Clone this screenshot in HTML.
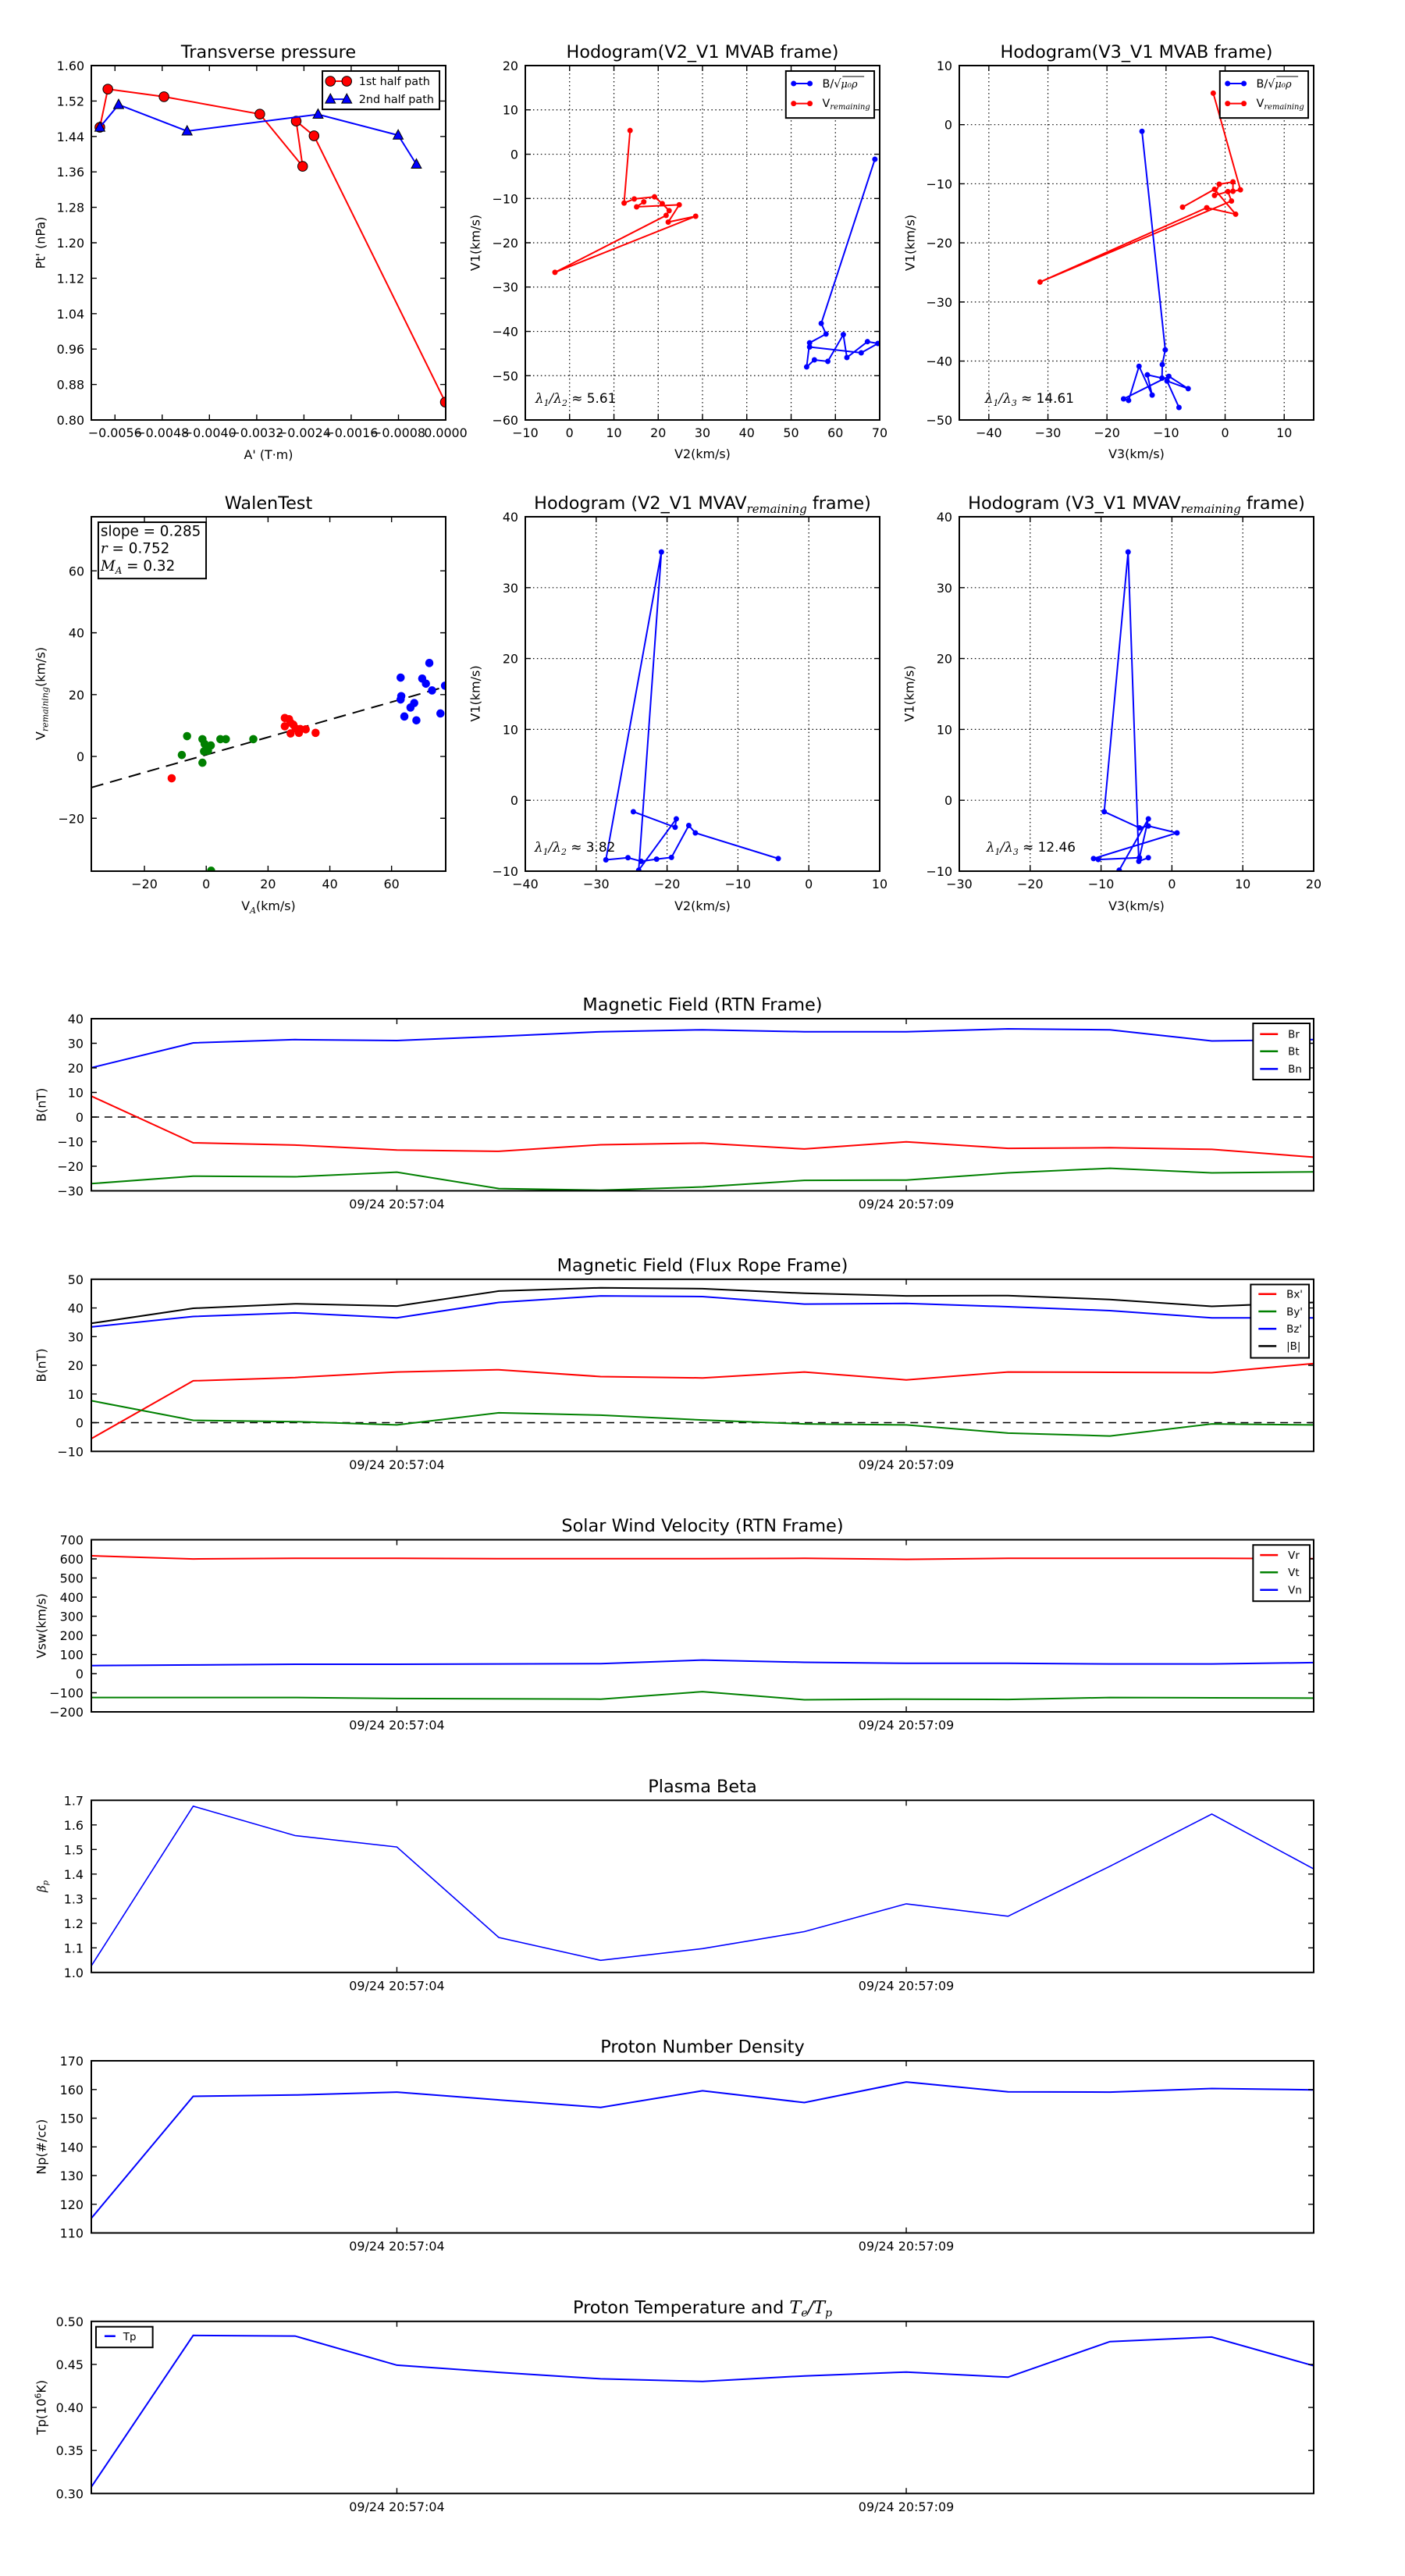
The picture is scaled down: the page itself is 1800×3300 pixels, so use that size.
<!DOCTYPE html>
<html><head><meta charset="utf-8">
<style>
html,body{margin:0;padding:0;background:#fff;}
svg{display:block;}
text{font-family:"DejaVu Sans","Liberation Sans",sans-serif;fill:#000;}
.tk{font-size:16px;}
.ti{font-size:22.5px;}
.lb{font-size:16px;}
.lg{font-size:14.5px;}
.lg2{font-size:13.5px;}
.m{font-family:"DejaVu Serif","Liberation Serif",serif;font-style:italic;}
.fr{fill:none;stroke:#000;stroke-width:2;}
.tks{fill:none;stroke:#000;stroke-width:1.4;}
.grid{fill:none;stroke:#000;stroke-width:1.2;stroke-dasharray:1.5,3.5;}
</style></head>
<body>
<svg width="1800" height="3300" viewBox="0 0 1800 3300" xmlns="http://www.w3.org/2000/svg">
<rect width="1800" height="3300" fill="#fff"/>
<defs>
<clipPath id="cA"><rect x="117" y="84" width="457" height="453"/></clipPath>
<clipPath id="cB"><rect x="673" y="84" width="457" height="453"/></clipPath>
<clipPath id="cC"><rect x="1229" y="84" width="457" height="453"/></clipPath>
<clipPath id="cD"><rect x="117" y="662" width="457" height="453"/></clipPath>
<clipPath id="cE"><rect x="673" y="662" width="457" height="453"/></clipPath>
<clipPath id="cF"><rect x="1230" y="662" width="457" height="453"/></clipPath>
</defs>

<!-- ============ Panel A: Transverse pressure ============ -->
<g transform="matrix(0.993435 0 0 1.002208 0.768 -0.1855)">
<text class="ti" x="345.5" y="74" text-anchor="middle">Transverse pressure</text>
<g clip-path="url(#cA)">
<polyline fill="none" stroke="#f00" stroke-width="2" points="128.0,162.9 138.3,114.1 210.7,123.8 334.3,146.0 389.5,212.8 381.2,155.0 404.2,173.8 573.5,514.2"/>
<g fill="#f00" stroke="#000" stroke-width="1">
<circle cx="128.0" cy="162.9" r="6.3"/><circle cx="138.3" cy="114.1" r="6.3"/><circle cx="210.7" cy="123.8" r="6.3"/><circle cx="334.3" cy="146.0" r="6.3"/><circle cx="389.5" cy="212.8" r="6.3"/><circle cx="381.2" cy="155.0" r="6.3"/><circle cx="404.2" cy="173.8" r="6.3"/><circle cx="573.5" cy="514.2" r="6.3"/>
</g>
<polyline fill="none" stroke="#00f" stroke-width="2" points="128.0,162.9 152.2,134.0 240.5,167.8 409.4,146.4 512.7,173.0 536.2,210.2"/>
<g fill="#00f" stroke="#000" stroke-width="1">
<polygon points="128,155.9 121.5,167.9 134.5,167.9"/>
<polygon points="152.2,127 145.7,139 158.7,139"/>
<polygon points="240.5,160.8 234,172.8 247,172.8"/>
<polygon points="409.4,139.4 402.9,151.4 415.9,151.4"/>
<polygon points="512.7,166 506.2,178 519.2,178"/>
<polygon points="536.2,203.2 529.7,215.2 542.7,215.2"/>
</g>
</g>
<path class="tks" d="M117 129.3h7M117 174.6h7M117 219.9h7M117 265.2h7M117 310.5h7M117 355.8h7M117 401.1h7M117 446.4h7M117 491.7h7
M574 129.3h-7M574 174.6h-7M574 219.9h-7M574 265.2h-7M574 310.5h-7M574 355.8h-7M574 401.1h-7M574 446.4h-7M574 491.7h-7
M147.5 537v-7M208.4 537v-7M269.3 537v-7M330.3 537v-7M391.2 537v-7M452.1 537v-7M513.1 537v-7
M147.5 84v7M208.4 84v7M269.3 84v7M330.3 84v7M391.2 84v7M452.1 84v7M513.1 84v7"/>
<rect class="fr" x="117" y="84" width="457" height="453"/>
<g class="tk" text-anchor="end">
<text x="108" y="90">1.60</text><text x="108" y="135.3">1.52</text><text x="108" y="180.6">1.44</text><text x="108" y="225.9">1.36</text><text x="108" y="271.2">1.28</text><text x="108" y="316.5">1.20</text><text x="108" y="361.8">1.12</text><text x="108" y="407.1">1.04</text><text x="108" y="452.4">0.96</text><text x="108" y="497.7">0.88</text><text x="108" y="543">0.80</text>
</g>
<g class="tk" text-anchor="middle">
<text x="147.5" y="559">−0.0056</text><text x="208.4" y="559">−0.0048</text><text x="269.3" y="559">−0.0040</text><text x="330.3" y="559">−0.0032</text><text x="391.2" y="559">−0.0024</text><text x="452.1" y="559">−0.0016</text><text x="513.1" y="559">−0.0008</text><text x="574" y="559">0.0000</text>
</g>
<text class="lb" x="345.5" y="587" text-anchor="middle">A' (T·m)</text>
<text class="lb" transform="translate(57,310.5) rotate(-90)" text-anchor="middle">Pt' (nPa)</text>
<rect x="415" y="91" width="151" height="49" fill="#fff" stroke="#000" stroke-width="2"/>
<line x1="425.3" y1="104" x2="446.4" y2="104" stroke="#f00" stroke-width="2"/>
<circle cx="425.3" cy="104" r="6.3" fill="#f00" stroke="#000"/><circle cx="446.4" cy="104" r="6.3" fill="#f00" stroke="#000"/>
<text class="lg" x="462" y="109">1st half path</text>
<line x1="425.3" y1="127" x2="446.4" y2="127" stroke="#00f" stroke-width="2"/>
<polygon points="425.3,120 418.8,132 431.8,132" fill="#00f" stroke="#000"/><polygon points="446.4,120 439.9,132 452.9,132" fill="#00f" stroke="#000"/>
<text class="lg" x="462" y="132">2nd half path</text>
</g>

<!-- ============ Panel B: Hodogram V2_V1 MVAB ============ -->
<g transform="matrix(0.993435 0 0 1.002208 4.418 -0.1855)">
<text class="ti" x="901.5" y="74" text-anchor="middle">Hodogram(V2_V1 MVAB frame)</text>
<path class="grid" d="M730.1 84V537M787.3 84V537M844.4 84V537M901.5 84V537M958.6 84V537M1015.8 84V537M1072.9 84V537
M673 140.6H1130M673 197.3H1130M673 253.9H1130M673 310.5H1130M673 367.1H1130M673 423.8H1130M673 480.4H1130"/>
<g clip-path="url(#cB)">
<polyline fill="none" stroke="#f00" stroke-width="2" points="808.1,167.0 800.4,259.7 813.5,254.5 839.6,251.8 849.6,260.5 858.5,269.5 854.6,275.5 711.2,348.3 892.7,276.6 857.3,284.1 871.5,262.0 816.5,264.6 825.8,258.2"/>
<g fill="#f00">
<circle cx="808.1" cy="167.0" r="3.5"/><circle cx="800.4" cy="259.7" r="3.5"/><circle cx="813.5" cy="254.5" r="3.5"/><circle cx="839.6" cy="251.8" r="3.5"/><circle cx="849.6" cy="260.5" r="3.5"/><circle cx="858.5" cy="269.5" r="3.5"/><circle cx="854.6" cy="275.5" r="3.5"/><circle cx="711.2" cy="348.3" r="3.5"/><circle cx="892.7" cy="276.6" r="3.5"/><circle cx="857.3" cy="284.1" r="3.5"/><circle cx="871.5" cy="262.0" r="3.5"/><circle cx="816.5" cy="264.6" r="3.5"/><circle cx="825.8" cy="258.2" r="3.5"/>
</g>
<polyline fill="none" stroke="#00f" stroke-width="2" points="1123.8,203.8 1054.6,413.6 1060.8,427.1 1039.6,438.4 1035.8,469.2 1045.8,460.2 1063.1,462.1 1083.1,427.9 1087.7,457.2 1114.2,436.9 1127.7,439.2 1106.2,451.2 1039.6,443.7"/>
<g fill="#00f">
<circle cx="1123.8" cy="203.8" r="3.5"/><circle cx="1054.6" cy="413.6" r="3.5"/><circle cx="1060.8" cy="427.1" r="3.5"/><circle cx="1039.6" cy="438.4" r="3.5"/><circle cx="1035.8" cy="469.2" r="3.5"/><circle cx="1045.8" cy="460.2" r="3.5"/><circle cx="1063.1" cy="462.1" r="3.5"/><circle cx="1083.1" cy="427.9" r="3.5"/><circle cx="1087.7" cy="457.2" r="3.5"/><circle cx="1114.2" cy="436.9" r="3.5"/><circle cx="1127.7" cy="439.2" r="3.5"/><circle cx="1106.2" cy="451.2" r="3.5"/><circle cx="1039.6" cy="443.7" r="3.5"/>
</g>
</g>
<path class="tks" d="M673 140.6h7M673 197.3h7M673 253.9h7M673 310.5h7M673 367.1h7M673 423.8h7M673 480.4h7
M1130 140.6h-7M1130 197.3h-7M1130 253.9h-7M1130 310.5h-7M1130 367.1h-7M1130 423.8h-7M1130 480.4h-7
M730.1 537v-7M787.3 537v-7M844.4 537v-7M901.5 537v-7M958.6 537v-7M1015.8 537v-7M1072.9 537v-7
M730.1 84v7M787.3 84v7M844.4 84v7M901.5 84v7M958.6 84v7M1015.8 84v7M1072.9 84v7"/>
<rect class="fr" x="673" y="84" width="457" height="453"/>
<g class="tk" text-anchor="end">
<text x="664" y="90">20</text><text x="664" y="146.6">10</text><text x="664" y="203.3">0</text><text x="664" y="259.9">−10</text><text x="664" y="316.5">−20</text><text x="664" y="373.1">−30</text><text x="664" y="429.8">−40</text><text x="664" y="486.4">−50</text><text x="664" y="543">−60</text>
</g>
<g class="tk" text-anchor="middle">
<text x="673" y="559">−10</text><text x="730.1" y="559">0</text><text x="787.3" y="559">10</text><text x="844.4" y="559">20</text><text x="901.5" y="559">30</text><text x="958.6" y="559">40</text><text x="1015.8" y="559">50</text><text x="1072.9" y="559">60</text><text x="1130" y="559">70</text>
</g>
<text class="lb" x="901.5" y="586" text-anchor="middle">V2(km/s)</text>
<text class="lb" transform="translate(614,310.5) rotate(-90)" text-anchor="middle">V1(km/s)</text>
<text x="686" y="515" font-size="17"><tspan class="m">λ</tspan><tspan class="m" font-size="11" dy="4">1</tspan><tspan class="m" dy="-4">/λ</tspan><tspan class="m" font-size="11" dy="4">2</tspan><tspan dy="-4"> ≈ 5.61</tspan></text>
<rect x="1009" y="91" width="114" height="60" fill="#fff" stroke="#000" stroke-width="2"/>
<line x1="1019" y1="107" x2="1040" y2="107" stroke="#00f" stroke-width="2"/>
<circle cx="1019" cy="107" r="3.5" fill="#00f"/><circle cx="1040" cy="107" r="3.5" fill="#00f"/>
<text class="lg" x="1056" y="112">B/<tspan class="m">√</tspan><tspan class="m" font-size="13">μ₀ρ</tspan></text>
<line x1="1082" y1="98" x2="1110" y2="98" stroke="#000" stroke-width="1"/>
<line x1="1019" y1="132.5" x2="1040" y2="132.5" stroke="#f00" stroke-width="2"/>
<circle cx="1019" cy="132.5" r="3.5" fill="#f00"/><circle cx="1040" cy="132.5" r="3.5" fill="#f00"/>
<text class="lg" x="1056" y="137">V<tspan class="m" font-size="10" dy="3">remaining</tspan></text>
</g>

<!-- ============ Panel C: Hodogram V3_V1 MVAB ============ -->
<g transform="matrix(0.993435 0 0 1.002208 8.068 -0.1855)">
<text class="ti" x="1457.5" y="74" text-anchor="middle">Hodogram(V3_V1 MVAB frame)</text>
<path class="grid" d="M1267.1 84V537M1343.3 84V537M1419.4 84V537M1495.6 84V537M1571.8 84V537M1648 84V537
M1229 159.5H1686M1229 235.1H1686M1229 310.6H1686M1229 386.2H1686M1229 461.7H1686"/>
<g clip-path="url(#cC)">
<polyline fill="none" stroke="#f00" stroke-width="2" points="1556.5,119.3 1591.5,242.8 1581.9,244.7 1581.9,232.7 1564.2,235.7 1558.1,250.0 1575.4,245.1 1580.0,257.1 1333.1,360.7 1548.1,265.7 1585.4,274.0 1558.1,242.1 1516.9,265.0"/>
<g fill="#f00">
<circle cx="1556.5" cy="119.3" r="3.5"/><circle cx="1591.5" cy="242.8" r="3.5"/><circle cx="1581.9" cy="244.7" r="3.5"/><circle cx="1581.9" cy="232.7" r="3.5"/><circle cx="1564.2" cy="235.7" r="3.5"/><circle cx="1558.1" cy="250.0" r="3.5"/><circle cx="1575.4" cy="245.1" r="3.5"/><circle cx="1580.0" cy="257.1" r="3.5"/><circle cx="1333.1" cy="360.7" r="3.5"/><circle cx="1548.1" cy="265.7" r="3.5"/><circle cx="1585.4" cy="274.0" r="3.5"/><circle cx="1558.1" cy="242.1" r="3.5"/><circle cx="1516.9" cy="265.0" r="3.5"/>
</g>
<polyline fill="none" stroke="#00f" stroke-width="2" points="1464.6,168.1 1494.6,447.4 1490.8,466.2 1490.4,483.5 1471.5,479.3 1477.7,505.2 1460.8,468.4 1447.3,512.0 1440.8,510.1 1499.2,481.2 1524.2,497.0 1496.9,487.2 1512.3,521.0"/>
<g fill="#00f">
<circle cx="1464.6" cy="168.1" r="3.5"/><circle cx="1494.6" cy="447.4" r="3.5"/><circle cx="1490.8" cy="466.2" r="3.5"/><circle cx="1490.4" cy="483.5" r="3.5"/><circle cx="1471.5" cy="479.3" r="3.5"/><circle cx="1477.7" cy="505.2" r="3.5"/><circle cx="1460.8" cy="468.4" r="3.5"/><circle cx="1447.3" cy="512.0" r="3.5"/><circle cx="1440.8" cy="510.1" r="3.5"/><circle cx="1499.2" cy="481.2" r="3.5"/><circle cx="1524.2" cy="497.0" r="3.5"/><circle cx="1496.9" cy="487.2" r="3.5"/><circle cx="1512.3" cy="521.0" r="3.5"/>
</g>
</g>
<path class="tks" d="M1229 159.5h7M1229 235.1h7M1229 310.6h7M1229 386.2h7M1229 461.7h7
M1686 159.5h-7M1686 235.1h-7M1686 310.6h-7M1686 386.2h-7M1686 461.7h-7
M1267.1 537v-7M1343.3 537v-7M1419.4 537v-7M1495.6 537v-7M1571.8 537v-7M1648 537v-7
M1267.1 84v7M1343.3 84v7M1419.4 84v7M1495.6 84v7M1571.8 84v7M1648 84v7"/>
<rect class="fr" x="1229" y="84" width="457" height="453"/>
<g class="tk" text-anchor="end">
<text x="1220" y="90">10</text><text x="1220" y="165.5">0</text><text x="1220" y="241.1">−10</text><text x="1220" y="316.6">−20</text><text x="1220" y="392.2">−30</text><text x="1220" y="467.7">−40</text><text x="1220" y="543">−50</text>
</g>
<g class="tk" text-anchor="middle">
<text x="1267.1" y="559">−40</text><text x="1343.3" y="559">−30</text><text x="1419.4" y="559">−20</text><text x="1495.6" y="559">−10</text><text x="1571.8" y="559">0</text><text x="1648" y="559">10</text>
</g>
<text class="lb" x="1457.5" y="586" text-anchor="middle">V3(km/s)</text>
<text class="lb" transform="translate(1171,310.5) rotate(-90)" text-anchor="middle">V1(km/s)</text>
<text x="1262" y="515" font-size="17"><tspan class="m">λ</tspan><tspan class="m" font-size="11" dy="4">1</tspan><tspan class="m" dy="-4">/λ</tspan><tspan class="m" font-size="11" dy="4">3</tspan><tspan dy="-4"> ≈ 14.61</tspan></text>
<rect x="1565" y="91" width="114" height="60" fill="#fff" stroke="#000" stroke-width="2"/>
<line x1="1575" y1="107" x2="1596" y2="107" stroke="#00f" stroke-width="2"/>
<circle cx="1575" cy="107" r="3.5" fill="#00f"/><circle cx="1596" cy="107" r="3.5" fill="#00f"/>
<text class="lg" x="1612" y="112">B/<tspan class="m">√</tspan><tspan class="m" font-size="13">μ₀ρ</tspan></text>
<line x1="1638" y1="98" x2="1666" y2="98" stroke="#000" stroke-width="1"/>
<line x1="1575" y1="132.5" x2="1596" y2="132.5" stroke="#f00" stroke-width="2"/>
<circle cx="1575" cy="132.5" r="3.5" fill="#f00"/><circle cx="1596" cy="132.5" r="3.5" fill="#f00"/>
<text class="lg" x="1612" y="137">V<tspan class="m" font-size="10" dy="3">remaining</tspan></text>
</g>

<!-- ============ Panel D: WalenTest ============ -->
<g transform="matrix(0.993435 0 0 1.002208 0.768 -1.4617)">
<text class="ti" x="345.5" y="652" text-anchor="middle">WalenTest</text>
<g clip-path="url(#cD)">
<line x1="117" y1="1008.1" x2="574" y2="879.1" stroke="#000" stroke-width="2" stroke-dasharray="16,9"/>
<g fill="#008000">
<circle cx="240.5" cy="942.4" r="5.3"/><circle cx="233.7" cy="966.5" r="5.3"/><circle cx="260.3" cy="946.3" r="5.3"/><circle cx="263.1" cy="952.4" r="5.3"/><circle cx="262.3" cy="961.9" r="5.3"/><circle cx="267.5" cy="961.1" r="5.3"/><circle cx="271.1" cy="954.3" r="5.3"/><circle cx="260.3" cy="976.4" r="5.3"/><circle cx="283.4" cy="946.3" r="5.3"/><circle cx="290.5" cy="946.3" r="5.3"/><circle cx="325.9" cy="946.3" r="5.3"/><circle cx="271.5" cy="1114.5" r="5.3"/>
</g>
<g fill="#f00">
<circle cx="220.6" cy="996.3" r="5.3"/><circle cx="366.5" cy="919.2" r="5.3"/><circle cx="372.0" cy="920.7" r="5.3"/><circle cx="366.5" cy="929.8" r="5.3"/><circle cx="374.0" cy="925.3" r="5.3"/><circle cx="377.6" cy="927.9" r="5.3"/><circle cx="380.4" cy="932.5" r="5.3"/><circle cx="386.3" cy="933.3" r="5.3"/><circle cx="384.7" cy="938.2" r="5.3"/><circle cx="374.0" cy="939.0" r="5.3"/><circle cx="393.5" cy="933.7" r="5.3"/><circle cx="406.2" cy="938.2" r="5.3"/>
</g>
<g fill="#00f">
<circle cx="515.9" cy="867.6" r="5.3"/><circle cx="516.7" cy="891.3" r="5.3"/><circle cx="515.9" cy="895.5" r="5.3"/><circle cx="520.7" cy="917.3" r="5.3"/><circle cx="528.6" cy="905.8" r="5.3"/><circle cx="533.4" cy="900.1" r="5.3"/><circle cx="536.2" cy="922.2" r="5.3"/><circle cx="543.7" cy="868.8" r="5.3"/><circle cx="548.5" cy="875.3" r="5.3"/><circle cx="552.9" cy="848.9" r="5.3"/><circle cx="556.4" cy="884.0" r="5.3"/><circle cx="567.2" cy="913.4" r="5.3"/><circle cx="573.1" cy="877.9" r="5.3"/>
</g>
</g>
<path class="tks" d="M117 731.2h7M117 810.3h7M117 889.3h7M117 968.4h7M117 1047.4h7
M574 731.2h-7M574 810.3h-7M574 889.3h-7M574 968.4h-7M574 1047.4h-7
M185.5 1115v-7M265.2 1115v-7M344.9 1115v-7M424.6 1115v-7M504.2 1115v-7
M185.5 662v7M265.2 662v7M344.9 662v7M424.6 662v7M504.2 662v7"/>
<rect class="fr" x="117" y="662" width="457" height="453"/>
<g class="tk" text-anchor="end">
<text x="108" y="737.2">60</text><text x="108" y="816.3">40</text><text x="108" y="895.3">20</text><text x="108" y="974.4">0</text><text x="108" y="1053.4">−20</text>
</g>
<g class="tk" text-anchor="middle">
<text x="185.5" y="1137">−20</text><text x="265.2" y="1137">0</text><text x="344.9" y="1137">20</text><text x="424.6" y="1137">40</text><text x="504.2" y="1137">60</text>
</g>
<text class="lb" x="345.5" y="1165" text-anchor="middle">V<tspan class="m" font-size="11" dy="4">A</tspan><tspan dy="-4">(km/s)</tspan></text>
<text class="lb" transform="translate(57,888) rotate(-90)" text-anchor="middle">V<tspan class="m" font-size="11" dy="4">remaining</tspan><tspan dy="-4">(km/s)</tspan></text>
<rect x="126" y="669" width="139" height="72" fill="#fff" stroke="#000" stroke-width="2"/>
<text x="129" y="686.3" font-size="18.5">slope = 0.285</text>
<text x="129" y="708.5" font-size="18.5"><tspan class="m">r</tspan> = 0.752</text>
<text x="129" y="731" font-size="18.5"><tspan class="m">M</tspan><tspan class="m" font-size="12" dy="4">A</tspan><tspan dy="-4"> = 0.32</tspan></text>
</g>

<!-- ============ Panel E ============ -->
<g transform="matrix(0.993435 0 0 1.002208 4.418 -1.4617)">
<text class="ti" x="901.5" y="652" text-anchor="middle">Hodogram (V2_V1 MVAV<tspan class="m" font-size="15" dy="5">remaining</tspan><tspan dy="-5"> frame)</tspan></text>
<path class="grid" d="M764.4 662V1115M855.8 662V1115M947.2 662V1115M1038.6 662V1115
M673 752.6H1130M673 843.2H1130M673 933.8H1130M673 1024.4H1130"/>
<g clip-path="url(#cE)">
<polyline fill="none" stroke="#00f" stroke-width="2" points="812.3,1039.0 866.2,1058.9 867.7,1048.2 819.2,1113.8 848.5,707.0 776.9,1100.5 805.4,1097.8 822.3,1102.4 842.3,1099.7 861.5,1097.4 883.8,1056.6 892.3,1066.1 999.2,1098.9"/>
<g fill="#00f">
<circle cx="812.3" cy="1039.0" r="3.5"/><circle cx="866.2" cy="1058.9" r="3.5"/><circle cx="867.7" cy="1048.2" r="3.5"/><circle cx="819.2" cy="1113.8" r="3.5"/><circle cx="848.5" cy="707.0" r="3.5"/><circle cx="776.9" cy="1100.5" r="3.5"/><circle cx="805.4" cy="1097.8" r="3.5"/><circle cx="822.3" cy="1102.4" r="3.5"/><circle cx="842.3" cy="1099.7" r="3.5"/><circle cx="861.5" cy="1097.4" r="3.5"/><circle cx="883.8" cy="1056.6" r="3.5"/><circle cx="892.3" cy="1066.1" r="3.5"/><circle cx="999.2" cy="1098.9" r="3.5"/>
</g>
</g>
<path class="tks" d="M673 752.6h7M673 843.2h7M673 933.8h7M673 1024.4h7
M1130 752.6h-7M1130 843.2h-7M1130 933.8h-7M1130 1024.4h-7
M764.4 1115v-7M855.8 1115v-7M947.2 1115v-7M1038.6 1115v-7
M764.4 662v7M855.8 662v7M947.2 662v7M1038.6 662v7"/>
<rect class="fr" x="673" y="662" width="457" height="453"/>
<g class="tk" text-anchor="end">
<text x="664" y="668">40</text><text x="664" y="758.6">30</text><text x="664" y="849.2">20</text><text x="664" y="939.8">10</text><text x="664" y="1030.4">0</text><text x="664" y="1121">−10</text>
</g>
<g class="tk" text-anchor="middle">
<text x="673" y="1137">−40</text><text x="764.4" y="1137">−30</text><text x="855.8" y="1137">−20</text><text x="947.2" y="1137">−10</text><text x="1038.6" y="1137">0</text><text x="1130" y="1137">10</text>
</g>
<text class="lb" x="901.5" y="1165" text-anchor="middle">V2(km/s)</text>
<text class="lb" transform="translate(614,888) rotate(-90)" text-anchor="middle">V1(km/s)</text>
<text x="685" y="1090" font-size="17"><tspan class="m">λ</tspan><tspan class="m" font-size="11" dy="4">1</tspan><tspan class="m" dy="-4">/λ</tspan><tspan class="m" font-size="11" dy="4">2</tspan><tspan dy="-4"> ≈ 3.82</tspan></text>
</g>

<!-- ============ Panel F ============ -->
<g transform="matrix(0.993435 0 0 1.002208 7.075 -1.4617)">
<text class="ti" x="1458.5" y="652" text-anchor="middle">Hodogram (V3_V1 MVAV<tspan class="m" font-size="15" dy="5">remaining</tspan><tspan dy="-5"> frame)</tspan></text>
<path class="grid" d="M1321.4 662V1115M1412.8 662V1115M1504.2 662V1115M1595.6 662V1115
M1230 752.6H1687M1230 843.2H1687M1230 933.8H1687M1230 1024.4H1687"/>
<g clip-path="url(#cF)">
<polyline fill="none" stroke="#00f" stroke-width="2" points="1436.2,1113.8 1473.8,1048.2 1462.3,1097.8 1409.2,1100.1 1403.1,1098.9 1510.8,1066.1 1473.8,1057.3 1462.3,1059.6 1416.9,1039.0 1447.7,707.0 1461.5,1102.4 1473.8,1097.8"/>
<g fill="#00f">
<circle cx="1436.2" cy="1113.8" r="3.5"/><circle cx="1473.8" cy="1048.2" r="3.5"/><circle cx="1462.3" cy="1097.8" r="3.5"/><circle cx="1409.2" cy="1100.1" r="3.5"/><circle cx="1403.1" cy="1098.9" r="3.5"/><circle cx="1510.8" cy="1066.1" r="3.5"/><circle cx="1473.8" cy="1057.3" r="3.5"/><circle cx="1462.3" cy="1059.6" r="3.5"/><circle cx="1416.9" cy="1039.0" r="3.5"/><circle cx="1447.7" cy="707.0" r="3.5"/><circle cx="1461.5" cy="1102.4" r="3.5"/><circle cx="1473.8" cy="1097.8" r="3.5"/>
</g>
</g>
<path class="tks" d="M1230 752.6h7M1230 843.2h7M1230 933.8h7M1230 1024.4h7
M1687 752.6h-7M1687 843.2h-7M1687 933.8h-7M1687 1024.4h-7
M1321.4 1115v-7M1412.8 1115v-7M1504.2 1115v-7M1595.6 1115v-7
M1321.4 662v7M1412.8 662v7M1504.2 662v7M1595.6 662v7"/>
<rect class="fr" x="1230" y="662" width="457" height="453"/>
<g class="tk" text-anchor="end">
<text x="1221" y="668">40</text><text x="1221" y="758.6">30</text><text x="1221" y="849.2">20</text><text x="1221" y="939.8">10</text><text x="1221" y="1030.4">0</text><text x="1221" y="1121">−10</text>
</g>
<g class="tk" text-anchor="middle">
<text x="1230" y="1137">−30</text><text x="1321.4" y="1137">−20</text><text x="1412.8" y="1137">−10</text><text x="1504.2" y="1137">0</text><text x="1595.6" y="1137">10</text><text x="1687" y="1137">20</text>
</g>
<text class="lb" x="1458.5" y="1165" text-anchor="middle">V3(km/s)</text>
<text class="lb" transform="translate(1171,888) rotate(-90)" text-anchor="middle">V1(km/s)</text>
<text x="1265" y="1090" font-size="17"><tspan class="m">λ</tspan><tspan class="m" font-size="11" dy="4">1</tspan><tspan class="m" dy="-4">/λ</tspan><tspan class="m" font-size="11" dy="4">3</tspan><tspan dy="-4"> ≈ 12.46</tspan></text>
</g>

<!-- ============ Time series (scaled horizontally to 117–1683) ============ -->
<g transform="matrix(0.99555 0 0 1 0.5207 0)">

<!-- TS 1 -->
<text class="ti" x="903.5" y="1294.5" text-anchor="middle">Magnetic Field (RTN Frame)</text>
<line x1="117" y1="1431" x2="1690" y2="1431" stroke="#000" stroke-width="1.5" stroke-dasharray="10,7"/>
<polyline fill="none" stroke="#f00" stroke-width="2" points="117,1404.2 248.1,1464.0 379.2,1466.9 510.2,1473.2 641.3,1474.9 772.4,1466.5 903.5,1464.4 1034.6,1471.9 1165.7,1462.7 1296.7,1471.1 1427.8,1470.3 1558.9,1472.4 1690,1482.4"/>
<polyline fill="none" stroke="#008000" stroke-width="2" points="117,1516.3 248.1,1506.7 379.2,1507.5 510.2,1501.6 641.3,1522.6 772.4,1524.7 903.5,1520.5 1034.6,1512.1 1165.7,1511.7 1296.7,1502.5 1427.8,1496.6 1558.9,1502.5 1690,1501.2"/>
<polyline fill="none" stroke="#00f" stroke-width="2" points="117,1367.8 248.1,1336.0 379.2,1331.8 510.2,1333.0 641.3,1327.6 772.4,1321.7 903.5,1319.2 1034.6,1321.7 1165.7,1321.7 1296.7,1318.0 1427.8,1319.2 1558.9,1333.5 1690,1331.8"/>
<path class="tks" d="M117 1336.5h7M117 1368h7M117 1399.5h7M117 1431h7M117 1462.5h7M117 1494h7
M1690 1336.5h-7M1690 1368h-7M1690 1399.5h-7M1690 1431h-7M1690 1462.5h-7M1690 1494h-7
M510.2 1305v7M1165.7 1305v7M510.2 1525.5v-7M1165.7 1525.5v-7"/>
<rect class="fr" x="117" y="1305" width="1573" height="220.5"/>
<g class="tk" text-anchor="end">
<text x="107" y="1311">40</text><text x="107" y="1342.5">30</text><text x="107" y="1374">20</text><text x="107" y="1405.5">10</text><text x="107" y="1437">0</text><text x="107" y="1468.5">−10</text><text x="107" y="1500">−20</text><text x="107" y="1531.5">−30</text>
</g>
<g class="tk" text-anchor="middle"><text x="510.2" y="1548">09/24 20:57:04</text><text x="1165.7" y="1548">09/24 20:57:09</text></g>
<text class="lb" transform="translate(58,1415.3) rotate(-90)" text-anchor="middle">B(nT)</text>
<rect x="1612" y="1311" width="73" height="72" fill="#fff" stroke="#000" stroke-width="2"/>
<line x1="1621" y1="1324.7" x2="1644" y2="1324.7" stroke="#f00" stroke-width="2.5"/><text class="lg2" x="1657" y="1329.5">Br</text>
<line x1="1621" y1="1346.8" x2="1644" y2="1346.8" stroke="#008000" stroke-width="2.5"/><text class="lg2" x="1657" y="1351.6">Bt</text>
<line x1="1621" y1="1369.4" x2="1644" y2="1369.4" stroke="#00f" stroke-width="2.5"/><text class="lg2" x="1657" y="1374.2">Bn</text>

<!-- TS 2 -->
<text class="ti" x="903.5" y="1628.3" text-anchor="middle">Magnetic Field (Flux Rope Frame)</text>
<line x1="117" y1="1822.5" x2="1690" y2="1822.5" stroke="#000" stroke-width="1.5" stroke-dasharray="10,7"/>
<polyline fill="none" stroke="#f00" stroke-width="2" points="117,1843.0 248.1,1768.9 379.2,1764.7 510.2,1757.6 641.3,1754.7 772.4,1763.5 903.5,1765.2 1034.6,1757.6 1165.7,1767.7 1296.7,1757.6 1427.8,1758.0 1558.9,1758.5 1690,1746.7"/>
<polyline fill="none" stroke="#008000" stroke-width="2" points="117,1794.4 248.1,1819.5 379.2,1821.2 510.2,1825.4 641.3,1809.9 772.4,1812.9 903.5,1819.1 1034.6,1824.1 1165.7,1825.4 1296.7,1835.9 1427.8,1839.6 1558.9,1824.1 1690,1825.4"/>
<polyline fill="none" stroke="#00f" stroke-width="2" points="117,1699.9 248.1,1686.5 379.2,1681.9 510.2,1688.2 641.3,1668.5 772.4,1660.1 903.5,1661.0 1034.6,1670.6 1165.7,1669.8 1296.7,1674.0 1427.8,1679.0 1558.9,1688.2 1690,1688.2"/>
<polyline fill="none" stroke="#000" stroke-width="2" points="117,1695.3 248.1,1676.0 379.2,1670.2 510.2,1673.1 641.3,1653.9 772.4,1649.7 903.5,1650.9 1034.6,1656.8 1165.7,1660.1 1296.7,1659.7 1427.8,1664.7 1558.9,1673.5 1690,1668.5"/>
<path class="tks" d="M117 1675.6h7M117 1712.3h7M117 1749h7M117 1785.8h7M117 1822.5h7
M1690 1675.6h-7M1690 1712.3h-7M1690 1749h-7M1690 1785.8h-7M1690 1822.5h-7
M510.2 1638.8v7M1165.7 1638.8v7M510.2 1859.3v-7M1165.7 1859.3v-7"/>
<rect class="fr" x="117" y="1638.8" width="1573" height="220.5"/>
<g class="tk" text-anchor="end">
<text x="107" y="1644.8">50</text><text x="107" y="1681.6">40</text><text x="107" y="1718.3">30</text><text x="107" y="1755">20</text><text x="107" y="1791.8">10</text><text x="107" y="1828.5">0</text><text x="107" y="1865.3">−10</text>
</g>
<g class="tk" text-anchor="middle"><text x="510.2" y="1881.8">09/24 20:57:04</text><text x="1165.7" y="1881.8">09/24 20:57:09</text></g>
<text class="lb" transform="translate(58,1749) rotate(-90)" text-anchor="middle">B(nT)</text>
<rect x="1609" y="1645.5" width="75" height="94" fill="#fff" stroke="#000" stroke-width="2"/>
<line x1="1619" y1="1657.8" x2="1642" y2="1657.8" stroke="#f00" stroke-width="2.5"/><text class="lg2" x="1655" y="1662.6">Bx'</text>
<line x1="1619" y1="1680" x2="1642" y2="1680" stroke="#008000" stroke-width="2.5"/><text class="lg2" x="1655" y="1684.8">By'</text>
<line x1="1619" y1="1702.2" x2="1642" y2="1702.2" stroke="#00f" stroke-width="2.5"/><text class="lg2" x="1655" y="1707">Bz'</text>
<line x1="1619" y1="1724.4" x2="1642" y2="1724.4" stroke="#000" stroke-width="2.5"/><text class="lg2" x="1655" y="1729.2">|B|</text>

<!-- TS 3 -->
<text class="ti" x="903.5" y="1962" text-anchor="middle">Solar Wind Velocity (RTN Frame)</text>
<polyline fill="none" stroke="#f00" stroke-width="2" points="117,1993.0 248.1,1997.1 379.2,1996.3 510.2,1996.3 641.3,1996.7 772.4,1996.7 903.5,1996.7 1034.6,1996.3 1165.7,1997.6 1296.7,1996.3 1427.8,1996.3 1558.9,1996.3 1690,1996.7"/>
<polyline fill="none" stroke="#008000" stroke-width="2" points="117,2174.6 248.1,2174.6 379.2,2174.6 510.2,2175.9 641.3,2176.3 772.4,2176.7 903.5,2167.1 1034.6,2177.5 1165.7,2176.7 1296.7,2177.1 1427.8,2174.6 1558.9,2175.0 1690,2175.4"/>
<polyline fill="none" stroke="#00f" stroke-width="2" points="117,2133.7 248.1,2132.9 379.2,2132.0 510.2,2132.0 641.3,2131.6 772.4,2131.2 903.5,2126.6 1034.6,2129.5 1165.7,2130.8 1296.7,2130.8 1427.8,2131.6 1558.9,2131.6 1690,2129.9"/>
<path class="tks" d="M117 1997h7M117 2021.5h7M117 2046h7M117 2070.5h7M117 2095h7M117 2119.5h7M117 2144h7M117 2168.5h7
M1690 1997h-7M1690 2021.5h-7M1690 2046h-7M1690 2070.5h-7M1690 2095h-7M1690 2119.5h-7M1690 2144h-7M1690 2168.5h-7
M510.2 1972.5v7M1165.7 1972.5v7M510.2 2193v-7M1165.7 2193v-7"/>
<rect class="fr" x="117" y="1972.5" width="1573" height="220.5"/>
<g class="tk" text-anchor="end">
<text x="107" y="1978.5">700</text><text x="107" y="2003">600</text><text x="107" y="2027.5">500</text><text x="107" y="2052">400</text><text x="107" y="2076.5">300</text><text x="107" y="2101">200</text><text x="107" y="2125.5">100</text><text x="107" y="2150">0</text><text x="107" y="2174.5">−100</text><text x="107" y="2199">−200</text>
</g>
<g class="tk" text-anchor="middle"><text x="510.2" y="2215.5">09/24 20:57:04</text><text x="1165.7" y="2215.5">09/24 20:57:09</text></g>
<text class="lb" transform="translate(58,2082.8) rotate(-90)" text-anchor="middle">Vsw(km/s)</text>
<rect x="1612" y="1979.2" width="73" height="72" fill="#fff" stroke="#000" stroke-width="2"/>
<line x1="1621" y1="1992.1" x2="1644" y2="1992.1" stroke="#f00" stroke-width="2.5"/><text class="lg2" x="1657" y="1996.9">Vr</text>
<line x1="1621" y1="2014.3" x2="1644" y2="2014.3" stroke="#008000" stroke-width="2.5"/><text class="lg2" x="1657" y="2019.1">Vt</text>
<line x1="1621" y1="2036.8" x2="1644" y2="2036.8" stroke="#00f" stroke-width="2.5"/><text class="lg2" x="1657" y="2041.6">Vn</text>

<!-- TS 4 -->
<text class="ti" x="903.5" y="2295.8" text-anchor="middle">Plasma Beta</text>
<polyline fill="none" stroke="#00f" stroke-width="1.6" points="117,2518.4 248.1,2313.8 379.2,2351.5 510.2,2366.1 641.3,2482.0 772.4,2511.3 903.5,2496.3 1034.6,2474.5 1165.7,2438.9 1296.7,2454.8 1427.8,2390.8 1558.9,2323.9 1690,2394.2"/>
<path class="tks" d="M117 2337.8h7M117 2369.3h7M117 2400.8h7M117 2432.3h7M117 2463.8h7M117 2495.3h7
M1690 2337.8h-7M1690 2369.3h-7M1690 2400.8h-7M1690 2432.3h-7M1690 2463.8h-7M1690 2495.3h-7
M510.2 2306.3v7M1165.7 2306.3v7M510.2 2526.8v-7M1165.7 2526.8v-7"/>
<rect class="fr" x="117" y="2306.3" width="1573" height="220.5"/>
<g class="tk" text-anchor="end">
<text x="107" y="2312.3">1.7</text><text x="107" y="2343.8">1.6</text><text x="107" y="2375.3">1.5</text><text x="107" y="2406.8">1.4</text><text x="107" y="2438.3">1.3</text><text x="107" y="2469.8">1.2</text><text x="107" y="2501.3">1.1</text><text x="107" y="2532.8">1.0</text>
</g>
<g class="tk" text-anchor="middle"><text x="510.2" y="2549.3">09/24 20:57:04</text><text x="1165.7" y="2549.3">09/24 20:57:09</text></g>
<text transform="translate(58,2416.5) rotate(-90)" text-anchor="middle" font-size="15"><tspan class="m">β</tspan><tspan class="m" font-size="10" dy="3">p</tspan></text>

<!-- TS 5 -->
<text class="ti" x="903.5" y="2629.5" text-anchor="middle">Proton Number Density</text>
<polyline fill="none" stroke="#00f" stroke-width="2" points="117,2841.7 248.1,2685.5 379.2,2683.8 510.2,2680.1 641.3,2690.1 772.4,2699.7 903.5,2678.4 1034.6,2693.5 1165.7,2667.1 1296.7,2679.7 1427.8,2680.1 1558.9,2675.5 1690,2677.2"/>
<path class="tks" d="M117 2676.8h7M117 2713.5h7M117 2750.3h7M117 2787h7M117 2823.8h7
M1690 2676.8h-7M1690 2713.5h-7M1690 2750.3h-7M1690 2787h-7M1690 2823.8h-7
M510.2 2640v7M1165.7 2640v7M510.2 2860.5v-7M1165.7 2860.5v-7"/>
<rect class="fr" x="117" y="2640" width="1573" height="220.5"/>
<g class="tk" text-anchor="end">
<text x="107" y="2646">170</text><text x="107" y="2682.8">160</text><text x="107" y="2719.5">150</text><text x="107" y="2756.3">140</text><text x="107" y="2793">130</text><text x="107" y="2829.8">120</text><text x="107" y="2866.5">110</text>
</g>
<g class="tk" text-anchor="middle"><text x="510.2" y="2883">09/24 20:57:04</text><text x="1165.7" y="2883">09/24 20:57:09</text></g>
<text class="lb" transform="translate(58,2750.3) rotate(-90)" text-anchor="middle">Np(#/cc)</text>

<!-- TS 6 -->
<text class="ti" x="903.5" y="2963.3" text-anchor="middle">Proton Temperature and <tspan class="m">T</tspan><tspan class="m" font-size="14" dy="4">e</tspan><tspan class="m" dy="-4">/T</tspan><tspan class="m" font-size="14" dy="4">p</tspan></text>
<polyline fill="none" stroke="#00f" stroke-width="2" points="117,3185.9 248.1,2991.8 379.2,2992.6 510.2,3029.9 641.3,3039.1 772.4,3047.4 903.5,3050.8 1034.6,3043.7 1165.7,3038.7 1296.7,3045.3 1427.8,2999.7 1558.9,2993.9 1690,3030.7"/>
<path class="tks" d="M117 3028.9h7M117 3084.1h7M117 3139.2h7
M1690 3028.9h-7M1690 3084.1h-7M1690 3139.2h-7
M510.2 2973.8v7M1165.7 2973.8v7M510.2 3194.3v-7M1165.7 3194.3v-7"/>
<rect class="fr" x="117" y="2973.8" width="1573" height="220.5"/>
<g class="tk" text-anchor="end">
<text x="107" y="2979.8">0.50</text><text x="107" y="3034.9">0.45</text><text x="107" y="3090.1">0.40</text><text x="107" y="3145.2">0.35</text><text x="107" y="3200.3">0.30</text>
</g>
<g class="tk" text-anchor="middle"><text x="510.2" y="3216.8">09/24 20:57:04</text><text x="1165.7" y="3216.8">09/24 20:57:09</text></g>
<text class="lb" transform="translate(58,3084) rotate(-90)" text-anchor="middle">Tp(10<tspan font-size="11" dy="-6">6</tspan><tspan dy="6">K)</tspan></text>
<rect x="123" y="2980.7" width="73" height="26.5" fill="#fff" stroke="#000" stroke-width="2"/>
<line x1="134" y1="2992.7" x2="148" y2="2992.7" stroke="#00f" stroke-width="2.5"/>
<text class="lg2" x="158" y="2998">Tp</text>
</g>
</svg>
</body></html>
